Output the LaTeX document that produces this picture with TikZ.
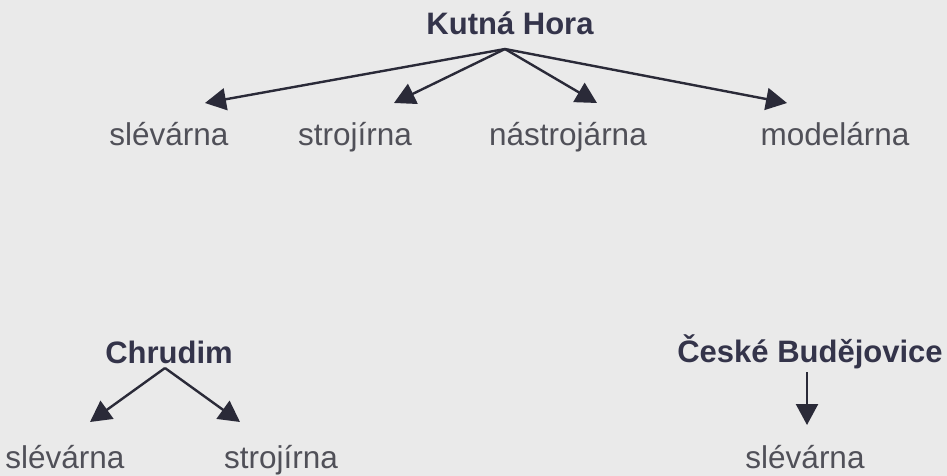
\documentclass[tikz,border=0pt]{standalone}
\usepackage{fontspec}
\setmainfont{Liberation Sans}
\usetikzlibrary{arrows.meta}
\definecolor{bgcol}{HTML}{EAEAEA}
\definecolor{linecol}{HTML}{2A2A38}
\definecolor{titlecol}{HTML}{34344A}
\definecolor{labelcol}{HTML}{505058}
\begin{document}
\begin{tikzpicture}[x=1pt,y=-1pt]
        \tikzstyle{every node}=[inner sep=0pt,anchor=base,font=\fontsize{31.5}{32}\selectfont,color=labelcol]
        \tikzstyle{town}=[font=\fontsize{31}{32}\selectfont\bfseries,color=titlecol]
        \tikzstyle{link}=[draw=linecol,line width=2.4pt,-{Triangle[length=21pt,width=22pt]}]
            \fill[bgcol] (0,0) rectangle (947,476);
            \useasboundingbox (0,0) rectangle (947,476);
            % Kutna Hora
            \node[town] (kh) at (510,35) {Kutná Hora};
            \node (kh1) at (169,145) {slévárna};
            \node (kh2) at (355,145) {strojírna};
            \node (kh3) at (568,145) {nástrojárna};
            \node (kh4) at (835,145) {modelárna};
            % Chrudim
            \node[town] (ch) at (169,363) {Chrudim};
            \node (ch1) at (65,468) {slévárna};
            \node (ch2) at (281,468) {strojírna};
            % Ceske Budejovice
            \node[town] (cb) at (810,362) {České Budějovice};
            \node (cb1) at (805,468) {slévárna};

            \coordinate (khroot) at (505,49);
            \coordinate (khtip1) at (205,103);
            \coordinate (khtip2) at (394,103);
            \coordinate (khtip3) at (597,103);
            \coordinate (khtip4) at (787,103);
            \coordinate (chroot) at (165,368);
            \coordinate (chtip1) at (90,422);
            \coordinate (chtip2) at (240,422);
            \coordinate (cbroot) at (807,372);
            \coordinate (cbtip1) at (807,425);

            \foreach \t in {1,2,3,4}
                \draw[link] (khroot) -- (khtip\t);
            \foreach \t in {1,2}
                \draw[link] (chroot) -- (chtip\t);
            \draw[link] (cbroot) -- (cbtip1);
        \end{tikzpicture}
\end{document}
